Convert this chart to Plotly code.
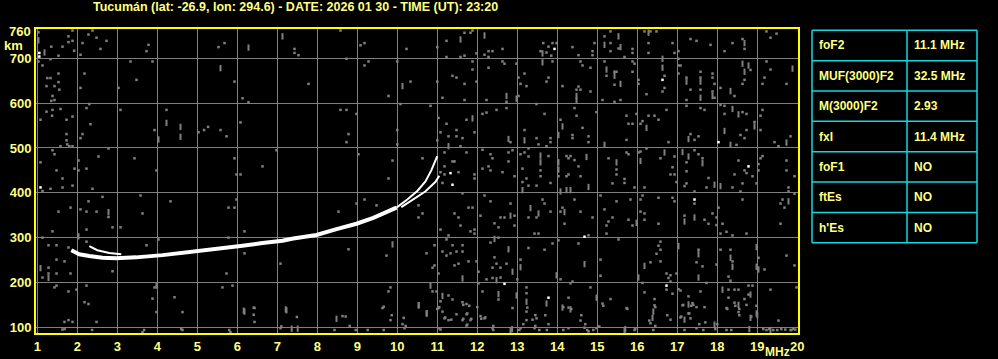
import plotly.graph_objects as go

# ---------------- data ----------------
title_text = "Tucumán (lat: -26.9, lon: 294.6) - DATE: 2026 01 30 - TIME (UT): 23:20"
x_ticks = list(range(1, 21))
y_ticks = [100, 200, 300, 400, 500, 600, 700]

table_labels = ["foF2", "MUF(3000)F2", "M(3000)F2", "fxI", "foF1", "ftEs", "h'Es"]
table_values = ["11.1 MHz", "32.5 MHz", "2.93", "11.4 MHz", "NO", "NO", "NO"]

# main (ordinary) F2 trace
o_trace_f = [1.85, 2.05, 2.3, 2.63, 2.97, 3.47, 4.13, 4.63, 5.13, 5.63, 6.13, 6.63, 7.13, 7.4, 7.98, 8.48, 8.98, 9.4, 9.73, 9.98]
o_trace_h = [272, 263, 259, 255, 254, 256, 261, 266, 270, 275, 282, 288, 293, 298, 306, 319, 331, 344, 356, 367]
# upper branches near the critical frequency
o_branch_f = [9.98, 10.25, 10.5, 10.7, 10.85, 11.0]
o_branch_h = [367, 385, 404, 425, 450, 482]
x_branch_f = [10.1, 10.4, 10.7, 10.95, 11.05]
x_branch_h = [368, 386, 403, 424, 438]
# low frequency secondary echo
x_low_f = [2.3, 2.5, 2.8, 3.1]
x_low_h = [281, 272, 266, 263]

noise_gray = [
    (1.03, 758), (1.35, 726), (1.53, 706), (1.78, 749), (1.88, 739), (1.78, 736), (1.92, 717), (2.08, 708),
    (2.13, 734), (2.28, 753), (2.48, 746), (2.73, 739), (2.58, 721), (2.38, 762), (1.88, 762), (1.63, 726),
    (1.03, 693), (1.13, 684), (1.33, 698), (1.53, 666), (1.25, 656), (1.33, 656), (1.53, 647), (1.23, 638),
    (1.43, 638), (1.55, 630), (2.08, 634), (2.18, 666), (1.38, 616), (1.35, 605), (1.43, 607), (2.3, 598),
    (2.23, 589), (1.58, 587), (1.38, 585), (1.23, 581), (1.37, 572), (1.88, 570), (1.08, 563), (1.73, 563),
    (2.33, 553), (1.73, 531), (2.13, 531), (2.08, 522), (1.73, 517), (1.75, 508), (1.58, 504), (1.88, 504),
    (1.8, 504), (1.38, 495), (1.43, 486), (1.08, 468), (2.03, 472), (2.53, 481), (2.78, 499), (2.23, 454),
    (1.93, 454), (2.03, 450), (1.48, 450), (1.63, 432), (3.03, 634), (3.08, 585), (3.33, 693), (3.48, 652),
    (3.78, 730), (3.73, 716), (3.88, 693), (4.23, 585), (3.93, 540), (3.43, 477), (3.98, 450), (5.03, 535),
    (5.17, 540), (5.27, 547), (5.58, 540), (5.73, 526), (5.53, 725), (5.68, 734), (5.93, 648), (6.13, 611),
    (6.28, 602), (6.08, 557), (5.93, 477), (5.98, 441), (6.08, 441), (6.63, 459), (6.98, 495),
    # 7 - 13.6 MHz, upper half
    (8.58, 762), (7.43, 721), (7.43, 712), (7.53, 707), (9.08, 729), (9.18, 734), (10.23, 721), (11.0, 725),
    (11.23, 739), (11.68, 757), (11.83, 757), (11.88, 762), (11.68, 706), (11.23, 703), (11.58, 703),
    (11.98, 711), (12.18, 708), (12.28, 716), (12.38, 716), (12.63, 721), (12.28, 703), (13.65, 734),
    (13.58, 716), (8.73, 699), (9.28, 693), (9.18, 684), (10.0, 693), (11.88, 693), (11.88, 675), (12.28, 679),
    (12.63, 693), (12.68, 688), (12.98, 688), (13.18, 666), (13.03, 657), (13.08, 643), (13.23, 638),
    (7.78, 643), (10.33, 648), (11.0, 648), (11.38, 661), (11.48, 657), (11.68, 643), (11.98, 648), (9.78, 616),
    (11.13, 612), (11.68, 607), (12.23, 607), (12.73, 603), (13.03, 616), (13.48, 598), (10.08, 598),
    (10.83, 594), (8.58, 585), (8.73, 585), (8.98, 576), (11.03, 567), (11.23, 554), (11.73, 563), (12.13, 576),
    (12.23, 579), (12.48, 585), (12.73, 589), (11.48, 540), (11.63, 522), (11.48, 526), (11.28, 526),
    (11.08, 535), (11.93, 535), (11.0, 517), (11.58, 504), (10.0, 540), (10.0, 508), (8.78, 531), (8.73, 513),
    (12.83, 513), (13.48, 522), (13.53, 508), (13.18, 540), (9.03, 486), (9.88, 472), (10.63, 477),
    (11.18, 490), (11.18, 459), (11.38, 470), (11.43, 470), (11.73, 490), (12.13, 496), (12.13, 454),
    (12.33, 486), (12.38, 477), (12.28, 459), (12.33, 450), (12.63, 446), (12.78, 470), (12.78, 490),
    (12.88, 495), (13.08, 486), (13.18, 490), (13.28, 499), (13.28, 481), (13.58, 450), (13.58, 437),
    (13.23, 432), (13.13, 454), (12.93, 437), (9.78, 432), (11.93, 441), (11.93, 432), (11.53, 446),
    (11.18, 441), (11.08, 446),
    # 13.6 - 20 MHz, upper half
    (13.88, 734), (13.98, 734), (13.73, 713), (13.85, 706), (13.78, 726), (14.38, 725), (14.53, 707),
    (14.93, 734), (14.88, 716), (14.88, 707), (15.18, 749), (15.33, 760), (15.53, 722), (15.33, 734),
    (15.33, 716), (15.68, 703), (15.88, 721), (15.88, 712), (16.18, 760), (16.33, 760), (16.48, 760),
    (16.28, 734), (16.28, 712), (16.88, 734), (16.93, 712), (17.03, 716), (17.33, 743), (17.48, 739),
    (17.83, 730), (18.18, 716), (18.38, 734), (18.63, 743), (18.68, 721), (19.23, 760), (19.33, 746),
    (19.48, 755), (13.88, 693), (13.78, 657), (13.73, 648), (14.13, 638), (14.48, 630), (14.58, 630),
    (14.53, 637), (14.83, 626), (14.58, 693), (14.63, 684), (14.83, 679), (15.18, 693), (15.23, 661),
    (15.43, 670), (15.48, 670), (15.43, 641), (15.13, 607), (15.43, 603), (15.58, 607), (15.88, 693),
    (15.93, 688), (15.88, 670), (16.03, 652), (16.03, 643), (16.23, 620), (16.68, 661), (16.68, 634),
    (16.63, 626), (17.03, 699), (17.03, 684), (17.08, 684), (17.03, 666), (17.23, 657), (17.33, 630),
    (17.23, 607), (17.58, 670), (17.58, 657), (17.58, 630), (17.88, 666), (17.88, 657), (17.88, 626),
    (17.93, 612), (17.93, 643), (18.08, 634), (18.43, 616), (18.83, 674), (18.68, 652), (18.63, 643),
    (19.23, 693), (19.33, 675), (19.18, 657), (19.13, 643), (19.73, 643), (13.68, 576), (13.83, 522),
    (13.83, 513), (13.73, 504), (14.08, 563), (14.43, 589), (14.48, 572), (14.63, 545), (14.38, 529),
    (14.38, 522), (14.78, 526), (14.78, 513), (14.98, 580), (15.73, 572), (15.78, 554), (15.88, 554),
    (15.73, 518), (15.98, 576), (16.08, 554), (16.13, 560), (16.28, 572), (16.43, 572), (16.53, 563),
    (16.73, 585), (16.78, 513), (17.23, 594), (17.58, 589), (17.68, 585), (17.33, 531), (17.43, 518),
    (17.53, 526), (18.08, 596), (18.18, 594), (18.18, 576), (18.63, 580), (18.73, 576), (18.48, 507),
    (18.58, 529), (18.68, 522), (18.73, 540), (18.93, 558), (19.08, 540), (19.08, 572), (19.13, 585),
    (19.43, 513), (19.83, 526), (19.53, 504), (13.78, 482), (14.03, 437), (14.23, 482), (14.33, 482),
    (14.28, 477), (14.43, 473), (14.53, 459), (14.58, 437), (14.23, 437), (14.28, 441), (15.28, 477),
    (15.48, 452), (15.48, 441), (15.68, 431), (15.73, 490), (15.78, 486), (16.08, 492), (16.03, 490),
    (16.23, 499), (16.58, 477), (16.88, 457), (16.83, 441), (16.93, 441), (16.93, 481), (17.43, 495),
    (17.53, 486), (17.63, 477), (17.23, 468), (17.23, 448), (17.78, 433), (18.53, 472), (18.43, 441),
    (18.73, 444), (18.88, 437), (18.68, 450), (19.13, 482), (19.08, 477), (19.03, 464), (19.03, 450),
    (19.73, 472), (19.73, 450), (19.93, 437),
    # 1 - 7.3 MHz, lower half
    (1.13, 404), (1.33, 409), (1.63, 412), (1.88, 416), (2.38, 409), (2.63, 391), (2.28, 381), (2.08, 363),
    (1.83, 367), (1.53, 358), (2.23, 358), (2.48, 358), (2.78, 346), (2.23, 318), (2.88, 323), (3.08, 323),
    (1.38, 314), (1.13, 300), (3.58, 394), (3.63, 354), (4.33, 381), (5.78, 367), (5.93, 367), (5.98, 385),
    (6.18, 314), (5.78, 300), (4.03, 296), (3.73, 283), (1.28, 283), (1.48, 283), (1.78, 278), (2.23, 291),
    (1.48, 251), (1.68, 247), (1.28, 233), (1.28, 220), (1.48, 220), (1.83, 220), (1.13, 211), (2.88, 225),
    (7.08, 242), (6.18, 265), (5.73, 220), (1.48, 193), (1.43, 189), (1.98, 184), (1.78, 180), (2.23, 193),
    (3.93, 189), (4.43, 167), (3.88, 164), (2.18, 156), (2.28, 152), (3.98, 134), (4.63, 134), (5.63, 189),
    (5.88, 193), (6.43, 143), (6.43, 112), (1.68, 112), (1.78, 116), (1.88, 112), (2.48, 112), (1.63, 95),
    (4.63, 94), (5.83, 89), (3.63, 89), (7.08, 98),
    # 7.3 - 13.6 MHz, lower half
    (8.53, 358), (8.98, 376), (9.18, 385), (9.48, 372), (10.53, 372), (10.63, 354), (10.53, 345), (8.78, 274),
    (9.73, 260), (9.78, 180), (9.83, 189), (9.63, 143), (8.63, 125), (9.83, 116), (10.13, 107), (10.18, 98),
    (10.73, 265), (10.93, 283), (10.93, 238), (10.88, 233), (11.03, 220), (10.88, 180), (10.98, 180),
    (11.08, 158), (11.03, 143), (11.28, 171), (11.38, 162), (11.63, 156), (11.73, 152), (11.13, 135),
    (11.18, 120), (11.28, 116), (11.48, 129), (11.63, 116), (11.73, 129), (11.83, 116), (11.73, 104),
    (11.08, 95), (11.13, 422), (11.63, 399), (11.78, 367), (11.88, 367), (11.43, 354), (11.53, 345),
    (11.58, 327), (11.93, 318), (11.83, 314), (11.93, 309), (11.28, 305), (11.08, 318), (11.23, 296),
    (11.38, 283), (11.63, 283), (11.13, 269), (11.33, 265), (11.23, 260), (11.48, 269), (11.63, 269),
    (11.43, 238), (11.53, 242), (11.78, 247), (11.98, 247), (12.08, 349), (12.18, 394), (12.33, 381),
    (12.43, 332), (12.58, 345), (12.68, 345), (12.83, 376), (12.93, 349), (12.93, 327), (12.53, 323),
    (12.53, 300), (12.33, 289), (12.43, 256), (12.48, 242), (12.58, 233), (12.73, 242), (12.38, 233),
    (12.03, 224), (12.23, 207), (12.38, 210), (12.58, 211), (12.13, 180), (12.03, 198), (13.0, 207),
    (13.08, 251), (13.28, 277), (13.13, 424), (13.28, 416), (13.48, 416), (13.63, 385), (13.48, 345),
    (13.43, 309), (13.28, 345), (13.53, 309), (13.23, 189), (13.23, 176), (13.23, 135), (13.23, 116),
    (13.38, 117), (13.48, 120), (13.43, 98), (12.88, 143), (12.08, 125), (12.18, 120), (12.38, 98),
    (13.08, 98), (8.43, 94), (12.53, 162),
    # 13.6 - 20 MHz, lower half
    (13.83, 422), (15.38, 421), (15.68, 422), (15.93, 412), (16.18, 412), (16.98, 424), (17.23, 421),
    (17.18, 415), (17.43, 403), (17.73, 412), (18.38, 412), (18.58, 403), (18.63, 421), (18.98, 421),
    (19.78, 412), (19.78, 403), (19.93, 398), (13.68, 376), (13.83, 358), (14.08, 358), (14.13, 367),
    (14.43, 385), (14.58, 358), (14.88, 345), (14.18, 331), (15.08, 394), (15.18, 363), (15.48, 381),
    (15.38, 345), (15.28, 336), (15.23, 327), (15.23, 309), (15.78, 340), (15.83, 385), (15.88, 327),
    (16.08, 385), (16.13, 394), (16.08, 358), (16.18, 354), (16.18, 340), (16.53, 389), (16.53, 331),
    (16.88, 389), (16.93, 381), (17.18, 349), (17.43, 376), (17.68, 340), (17.78, 331), (17.88, 354),
    (17.98, 345), (17.98, 328), (18.03, 367), (18.13, 331), (18.23, 313), (18.08, 309), (18.38, 305),
    (18.73, 309), (18.63, 385), (19.58, 376), (19.63, 385), (19.68, 367), (19.58, 331), (14.78, 305),
    (14.53, 287), (13.88, 287), (14.03, 294), (13.68, 273), (15.08, 251), (15.53, 296), (16.33, 245),
    (16.58, 291), (16.53, 282), (16.58, 273), (16.48, 264), (16.58, 247), (16.98, 220), (17.53, 273),
    (17.48, 245), (17.63, 236), (17.98, 240), (18.08, 273), (18.33, 273), (18.38, 247), (19.03, 255),
    (19.18, 229), (19.73, 260), (19.93, 238), (14.08, 207), (14.38, 202), (14.33, 198), (15.08, 215),
    (16.13, 199), (16.73, 220), (16.83, 216), (16.78, 210), (16.83, 202), (16.73, 184), (16.88, 175),
    (17.73, 199), (18.28, 213), (18.33, 204), (18.78, 193), (18.88, 193), (14.28, 166), (14.28, 144),
    (14.83, 189), (15.13, 153), (15.33, 163), (15.73, 143), (16.18, 178), (16.43, 163), (16.43, 149),
    (16.33, 109), (16.83, 117), (17.03, 185), (17.08, 182), (17.28, 169), (17.13, 149), (17.38, 154),
    (17.48, 145), (17.68, 145), (17.28, 131), (17.08, 122), (17.33, 120), (17.58, 180), (18.28, 184),
    (18.43, 184), (18.53, 184), (18.28, 166), (18.43, 155), (18.68, 163), (18.23, 143), (18.53, 134),
    (18.73, 150), (18.78, 173), (18.98, 148), (19.33, 184), (19.53, 115), (19.98, 189), (14.58, 115),
    (14.68, 99), (13.78, 107), (14.28, 98), (14.98, 98), (15.93, 94), (17.18, 94), (17.48, 98), (18.23, 94),
    (19.23, 94), (19.83, 94), (14.78, 91),
    # bottom strip
    (1.68, 96), (2.37, 94), (3.67, 94), (4.6, 96), (5.8, 94), (6.41, 144), (6.41, 128), (7.49, 123),
    (7.1, 102), (8.71, 124), (8.81, 103), (8.96, 94), (9.26, 94), (9.66, 94), (9.66, 146), (9.86, 127),
    (10.16, 121), (10.21, 103), (11.05, 145), (11.0, 141), (11.2, 122), (11.35, 117), (11.05, 98),
    (11.65, 119), (11.75, 131), (11.85, 119), (11.75, 106), (11.65, 150), (11.8, 148), (12.0, 145),
    (12.1, 119), (12.2, 122), (12.4, 103), (12.4, 94), (13.05, 94), (13.15, 107), (13.25, 144), (13.45, 127),
    (13.45, 103), (13.55, 94), (13.7, 127), (13.74, 94), (14.15, 145), (14.35, 141), (14.15, 94), (14.6, 127),
    (14.75, 94), (14.7, 107), (14.9, 94), (15.05, 102), (15.15, 148), (15.75, 141), (15.95, 96), (16.3, 115),
    (16.4, 94), (16.45, 103), (16.45, 145), (16.75, 127), (17.1, 124), (17.15, 150), (17.35, 148),
    (17.3, 131), (17.4, 150), (17.55, 107), (17.65, 94), (17.7, 111), (17.95, 96), (18.0, 107), (18.25, 141),
    (18.35, 94), (18.45, 148), (18.55, 141), (18.55, 127), (18.85, 124), (19.15, 96), (19.3, 96), (19.4, 94),
    (19.5, 94), (19.6, 96), (19.85, 94), (19.9, 96), (19.7, 95), (19.95, 95),
]

noise_gray_tall = [
    (1.03, 740), (1.18, 713), (4.23, 556), (4.03, 519), (4.58, 547), (4.58, 525), (7.13, 749), (6.28, 724),
    (5.58, 678), (11.58, 742), (12.18, 751), (13.63, 711), (13.63, 691), (10.13, 638), (12.73, 616),
    (12.98, 610), (11.88, 566), (12.78, 520), (13.18, 517), (11.28, 504), (13.58, 483), (13.58, 468),
    (15.18, 730), (15.53, 749), (15.58, 725), (16.28, 757), (18.68, 734), (15.23, 675), (15.43, 661),
    (15.58, 643), (16.63, 699), (16.63, 679), (17.23, 648), (17.58, 648), (17.58, 612), (17.88, 616),
    (18.33, 627), (18.63, 688), (18.78, 684), (18.68, 670), (19.88, 677), (14.48, 616), (14.48, 605),
    (14.03, 529), (14.13, 548), (15.18, 507), (16.23, 545), (17.28, 520), (18.38, 587), (18.53, 575),
    (18.18, 538), (18.33, 507), (18.93, 548), (19.73, 512), (14.03, 468), (14.03, 452), (14.73, 480),
    (15.48, 468), (16.08, 471), (16.68, 490), (17.13, 491), (17.28, 481), (17.63, 466),
    (2.78, 357), (2.03, 303), (1.08, 232), (1.28, 210), (3.98, 193), (6.18, 135), (7.23, 138),
    (9.88, 285), (10.83, 193), (10.53, 149), (10.73, 131), (11.13, 170), (11.63, 209), (12.83, 349),
    (12.43, 297), (12.78, 274), (12.88, 224), (12.48, 205), (12.53, 174), (13.08, 234), (13.13, 406),
    (13.33, 366), (13.53, 354), (13.23, 157), (12.98, 171), (12.83, 92), (8.48, 119),
    (14.08, 403), (14.23, 406), (14.33, 406), (14.78, 413), (17.93, 418), (18.08, 415), (14.18, 357),
    (15.98, 333), (17.18, 336), (17.43, 345), (19.78, 381), (14.68, 241), (16.18, 237), (17.03, 281),
    (17.53, 263), (18.33, 255), (18.38, 235), (18.98, 279), (18.98, 235), (19.03, 229), (13.98, 216),
    (16.03, 211), (17.53, 211), (18.83, 173), (13.73, 153), (14.13, 144), (14.33, 140), (14.98, 166),
    (16.38, 121), (17.28, 151), (17.18, 117), (18.13, 184), (18.53, 150), (18.83, 121), (18.98, 131),
    (15.68, 94), (17.93, 106), (19.33, 94), (6.16, 137), (7.21, 140), (7.36, 97), (7.51, 97),
    (10.54, 149), (10.74, 131), (12.87, 96), (15.7, 96), (16.4, 135), (18.8, 96), (19.0, 127),
]

noise_white = [
    (1.05, 712), (1.05, 704), (1.08, 412), (11.33, 444), (11.38, 418), (12.68, 197), (13.93, 721),
    (16.63, 652), (18.03, 513), (18.78, 459), (14.68, 302), (17.43, 385), (16.73, 193), (13.78, 166),
]

# ---------------- geometry helpers (pixel -> paper) ----------------
W, H = 998, 359
ML, MR, MT, MB = 36, 200, 29, 26
PW, PH = W - ML - MR, H - MT - MB


def px(x):
    return (x - ML) / PW


def py(y):
    return (H - MB - y) / PH


GRAY = "#808080"
YELLOW = "#ffff00"
TEXT = "#ffff80"
CYAN = "#10d8e0"
FONT = "Liberation Sans"

fig = go.Figure()

gx, gy = zip(*noise_gray)
fig.add_trace(go.Scatter(x=list(gx), y=list(gy), mode="markers",
                         marker=dict(symbol="square", size=2.5, color=GRAY, line=dict(width=0)),
                         hoverinfo="skip", showlegend=False))
tx, ty = zip(*noise_gray_tall)
fig.add_trace(go.Scatter(x=list(tx), y=list(ty), mode="markers",
                         marker=dict(symbol="line-ns", size=4.5, color=GRAY, line=dict(width=2, color=GRAY)),
                         hoverinfo="skip", showlegend=False))
wx, wy = zip(*noise_white)
fig.add_trace(go.Scatter(x=list(wx), y=list(wy), mode="markers",
                         marker=dict(symbol="square", size=2.5, color="white", line=dict(width=0)),
                         hoverinfo="skip", showlegend=False))

fig.add_trace(go.Scatter(x=x_low_f, y=x_low_h, mode="lines",
                         line=dict(color="white", width=2), hoverinfo="skip", showlegend=False))
fig.add_trace(go.Scatter(x=o_trace_f, y=o_trace_h, mode="lines",
                         line=dict(color="white", width=4), hoverinfo="skip", showlegend=False))
fig.add_trace(go.Scatter(x=o_branch_f, y=o_branch_h, mode="lines",
                         line=dict(color="white", width=2), hoverinfo="skip", showlegend=False))
fig.add_trace(go.Scatter(x=x_branch_f, y=x_branch_h, mode="lines",
                         line=dict(color="white", width=2), hoverinfo="skip", showlegend=False))

fig.update_xaxes(range=[0.9675, 20.0175], tickvals=x_ticks,
                 ticktext=[f"<b>{v}</b>" for v in x_ticks],
                 tickfont=dict(family=FONT, size=13, color=TEXT), automargin=False,
                 showgrid=True, gridcolor=GRAY, gridwidth=1, zeroline=False,
                 showline=True, mirror=True, linecolor=YELLOW, linewidth=2, ticks="")
fig.update_yaxes(range=[87.3, 765.4], tickvals=y_ticks,
                 ticktext=[f"<b>{v}</b>" for v in y_ticks],
                 tickfont=dict(family=FONT, size=13, color=TEXT), automargin=False,
                 showgrid=True, gridcolor=GRAY, gridwidth=1, zeroline=False,
                 showline=True, mirror=True, linecolor=YELLOW, linewidth=2, ticks="")

annotations = [
    dict(x=px(295), y=py(7), xref="paper", yref="paper", text=f"<b>{title_text}</b>",
         showarrow=False, xanchor="center", yanchor="middle",
         font=dict(family=FONT, size=12.5, color=TEXT)),
    dict(x=px(33), y=760, xref="paper", yref="y", text="<b>760</b>", showarrow=False,
         xanchor="right", yanchor="middle", font=dict(family=FONT, size=13, color=TEXT)),
    dict(x=px(13), y=py(45), xref="paper", yref="paper", text="<b>km</b>", showarrow=False,
         xanchor="center", yanchor="middle", font=dict(family=FONT, size=13, color=TEXT)),
    dict(x=px(777), y=py(352), xref="paper", yref="paper", text="<b>MHz</b>", showarrow=False,
         xanchor="center", yanchor="middle", font=dict(family=FONT, size=12, color=TEXT)),
]

shapes = []
tx0, tx1, tx2 = 812, 907, 977
ty0, row_h = 30.3, 30.35
n = len(table_labels)
for i in range(n + 1):
    yy = py(ty0 + i * row_h)
    shapes.append(dict(type="line", xref="paper", yref="paper", x0=px(tx0), x1=px(tx2), y0=yy, y1=yy,
                       line=dict(color=CYAN, width=1.5)))
for xx in (tx0, tx1, tx2):
    shapes.append(dict(type="line", xref="paper", yref="paper", x0=px(xx), x1=px(xx),
                       y0=py(ty0), y1=py(ty0 + n * row_h), line=dict(color=CYAN, width=1.5)))
for i, (lab, val) in enumerate(zip(table_labels, table_values)):
    yc = py(ty0 + (i + 0.5) * row_h)
    annotations.append(dict(x=px(817), y=yc, xref="paper", yref="paper", text=f"<b>{lab}</b>",
                            showarrow=False, xanchor="left", yanchor="middle",
                            font=dict(family=FONT, size=12, color=TEXT)))
    annotations.append(dict(x=px(912), y=yc, xref="paper", yref="paper", text=f"<b>{val}</b>",
                            showarrow=False, xanchor="left", yanchor="middle",
                            font=dict(family=FONT, size=12, color=TEXT)))

fig.update_layout(width=W, height=H, margin=dict(l=ML, r=MR, t=MT, b=MB, pad=0, autoexpand=False),
                  paper_bgcolor="black", plot_bgcolor="black",
                  annotations=annotations, shapes=shapes, showlegend=False)

fig.write_html("out.html")
